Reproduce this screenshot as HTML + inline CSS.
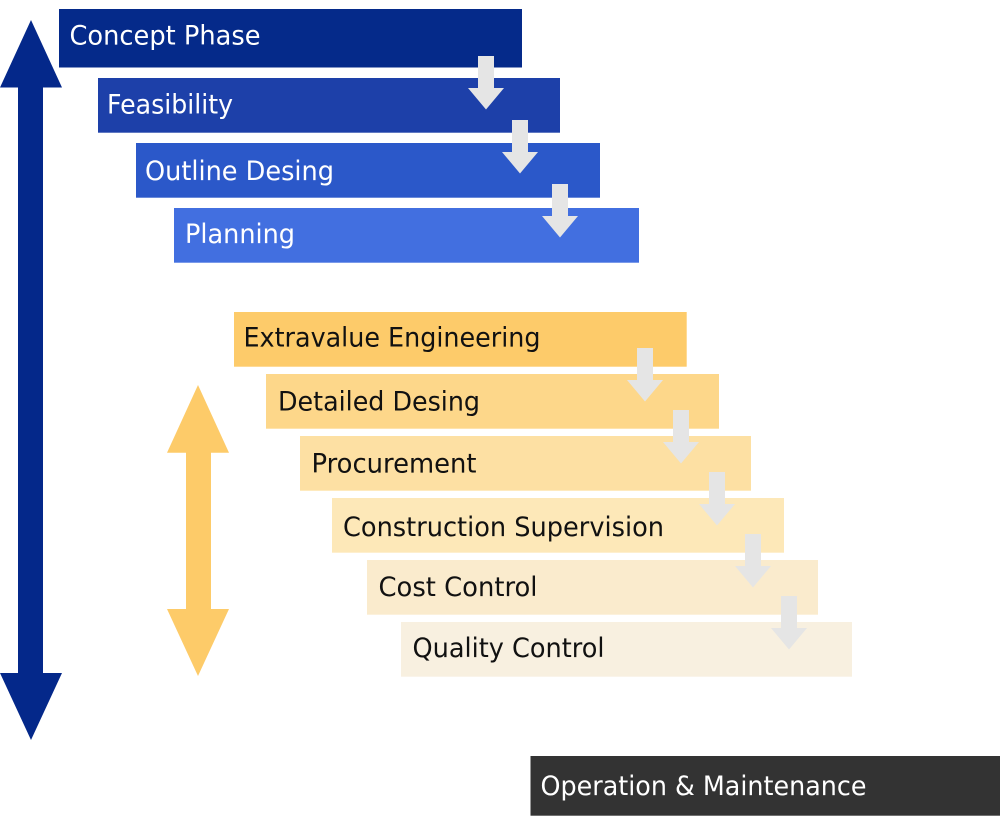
<!DOCTYPE html>
<html>
<head>
<meta charset="utf-8">
<style>
  html, body { margin: 0; padding: 0; background: #ffffff; }
  body { width: 1000px; height: 820px; overflow: hidden; }
  svg { display: block; }
  text { font-family: "DejaVu Sans", "Liberation Sans", sans-serif; font-size: 26.5px; }
  .w { fill: #ffffff; }
  .k { fill: #111111; }
</style>
</head>
<body>
<svg width="1000" height="820" viewBox="0 0 1000 820" xmlns="http://www.w3.org/2000/svg">
  <!-- Big blue double arrow -->
  <polygon fill="#04288A" points="31,20 62,87.5 43,87.5 43,673 62,673 31,740 0,673 18,673 18,87.5 0,87.5"/>

  <!-- Yellow double arrow -->
  <polygon fill="#FDCB69" points="198,385 229,452.7 211,452.7 211,609 229,609 198,676 167,609 186,609 186,452.7 167,452.7"/>

  <!-- Blue boxes -->
  <rect x="59" y="9" width="463" height="58.5" fill="#052A8A"/>
  <rect x="98" y="78" width="462" height="54.7" fill="#1D40A9"/>
  <rect x="136" y="143" width="464" height="54.7" fill="#2B58C9"/>
  <rect x="174" y="208" width="465" height="54.7" fill="#426FE0"/>

  <!-- Yellow boxes -->
  <rect x="234" y="312" width="452.7" height="54.7" fill="#FDCB6A"/>
  <rect x="266" y="374" width="453" height="54.7" fill="#FDD78A"/>
  <rect x="300" y="436" width="451" height="54.7" fill="#FDE0A3"/>
  <rect x="332" y="498" width="452" height="54.7" fill="#FDE8B8"/>
  <rect x="367" y="560" width="451" height="54.7" fill="#FAEBCD"/>
  <rect x="401" y="622" width="451" height="54.7" fill="#F8F0E0"/>

  <!-- Operation box -->
  <rect x="530.5" y="756" width="470" height="59.7" fill="#333333"/>

  <!-- Gray down arrows -->
  <g fill="#E5E5E5">
    <polygon points="478,56 494,56 494,88 504,88 486,109.5 468,88 478,88"/>
    <polygon points="512,120 528,120 528,152 538,152 520,173.5 502,152 512,152"/>
    <polygon points="552,184 568,184 568,216 578,216 560,237.5 542,216 552,216"/>

    <polygon points="637,348 653,348 653,380 663,380 645,401.5 627,380 637,380"/>
    <polygon points="673,410 689,410 689,442 699,442 681,463.5 663,442 673,442"/>
    <polygon points="709,472 725,472 725,504 735,504 717,525.5 699,504 709,504"/>
    <polygon points="745,534 761,534 761,566 771,566 753,587.5 735,566 745,566"/>
    <polygon points="781,596 797,596 797,628 807,628 789,649.5 771,628 781,628"/>
  </g>

  <!-- Labels -->
  <text class="w" x="69.5" y="44.3" textLength="191" lengthAdjust="spacingAndGlyphs">Concept Phase</text>
  <text class="w" x="107" y="113.3" textLength="126" lengthAdjust="spacingAndGlyphs">Feasibility</text>
  <text class="w" x="145" y="180" textLength="189" lengthAdjust="spacingAndGlyphs">Outline Desing</text>
  <text class="w" x="185" y="243" textLength="110" lengthAdjust="spacingAndGlyphs">Planning</text>

  <text class="k" x="243.5" y="346.5" textLength="297" lengthAdjust="spacingAndGlyphs">Extravalue Engineering</text>
  <text class="k" x="278" y="410.5" textLength="202" lengthAdjust="spacingAndGlyphs">Detailed Desing</text>
  <text class="k" x="311.5" y="472.5" textLength="165" lengthAdjust="spacingAndGlyphs">Procurement</text>
  <text class="k" x="343" y="536" textLength="321" lengthAdjust="spacingAndGlyphs">Construction Supervision</text>
  <text class="k" x="378.5" y="596" textLength="159" lengthAdjust="spacingAndGlyphs">Cost Control</text>
  <text class="k" x="412.5" y="657" textLength="192" lengthAdjust="spacingAndGlyphs">Quality Control</text>

  <text class="w" x="540.5" y="795" textLength="326" lengthAdjust="spacingAndGlyphs">Operation &amp; Maintenance</text>
</svg>
</body>
</html>
